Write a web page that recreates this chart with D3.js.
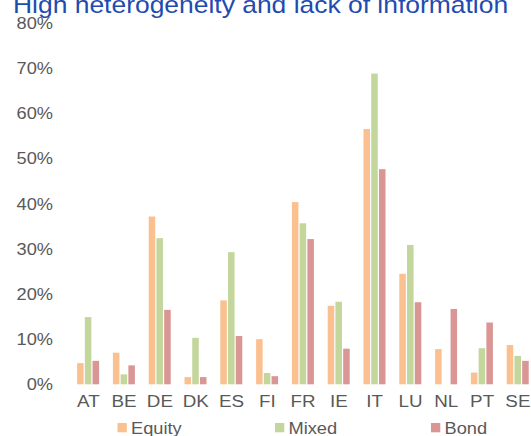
<!DOCTYPE html>
<html>
<head>
<meta charset="utf-8">
<script src="https://cdn.jsdelivr.net/npm/d3@7"></script>
<style>
  body { margin: 0; background: #fff; }
  svg { display: block; font-family: "Liberation Sans", Arial, sans-serif; }
</style>
</head>
<body>
<svg width="531" height="436"></svg>
<script>
var countries = ["AT", "BE", "DE", "DK", "ES", "FI", "FR", "IE", "IT", "LU", "NL", "PT", "SE"]
var seriesNames = ["Equity", "Mixed", "Bond"]
var colors = ["#FAC090", "#C3D69B", "#D99694"]
var equity = [0.047, 0.070, 0.372, 0.016, 0.186, 0.100, 0.404, 0.174, 0.566, 0.245, 0.078, 0.026, 0.087]
var mixed  = [0.149, 0.022, 0.324, 0.103, 0.293, 0.025, 0.357, 0.183, 0.689, 0.309, 0.000, 0.080, 0.063]
var bond   = [0.052, 0.042, 0.165, 0.016, 0.107, 0.018, 0.322, 0.079, 0.477, 0.182, 0.167, 0.137, 0.052]
var yTicks = [0, 0.1, 0.2, 0.3, 0.4, 0.5, 0.6, 0.7, 0.8]

var svg = d3.select("svg")
var values = [equity, mixed, bond]
// the source text is a bit wide, stretch Arial horizontally
var stretch = "scale(1.14,1)"

var y = d3.scaleLinear().domain([0, 0.8]).range([384.3, 23.5])
var x0 = d3.scaleBand().domain(countries).range([70.4, 535.8]).padding(0)
var x1 = d3.scaleBand().domain(seriesNames).range([-11.6, 11.6]).padding(0)

// title (cut at top, like the source slide)
svg.append("text")
    .attr("transform", "translate(13,13) scale(1.15,1)")
    .attr("fill", "#1F4BB0")
    .style("font-size", "23px")
    .text("High heterogeneity and lack of information")

// y axis labels only
var yAxis = d3.axisLeft(y).tickValues(yTicks).tickFormat(d3.format(".0%")).tickSize(0).tickPadding(0)
var gy = svg.append("g").attr("transform", "translate(53,0)").call(yAxis)
gy.select(".domain").remove()
gy.selectAll("text")
    .attr("fill", "#595959")
    .attr("transform", stretch)
    .style("font-size", "16px")
    .style("font-family", "'Liberation Sans', Arial, sans-serif")

// bars
var groups = svg.selectAll("g.country")
    .data(countries)
    .enter()
  .append("g")
    .attr("class", "country")
    .attr("transform", function(d) { return "translate(" + (x0(d) + x0.bandwidth() / 2) + ",0)"; })

groups.selectAll("rect")
    .data(function(d, i) { return seriesNames.map(function(s, j) { return { s: s, j: j, v: values[j][i] }; }); })
    .enter()
  .append("rect")
    .filter(function(d) { return d.v > 0; })
    .attr("x", function(d) { return x1(d.s) + 0.4; })
    .attr("width", x1.bandwidth() - 1.2)
    .attr("y", function(d) { return y(d.v); })
    .attr("height", function(d) { return y(0) - y(d.v); })
    .attr("fill", function(d) { return colors[d.j]; })

// category labels
var xAxis = d3.axisBottom(x0).tickSize(0).tickPadding(0)
var gx = svg.append("g").attr("transform", "translate(0,395.5)").call(xAxis)
gx.select(".domain").remove()
gx.selectAll("text")
    .attr("fill", "#595959")
    .attr("dy", "0.71em")
    .attr("transform", stretch)
    .style("font-size", "16.5px")
    .style("font-family", "'Liberation Sans', Arial, sans-serif")

// legend
var legendX = [117.5, 275, 431]
var legend = svg.selectAll("g.legend")
    .data(seriesNames)
    .enter()
  .append("g")
    .attr("class", "legend")
    .attr("transform", function(d, i) { return "translate(" + legendX[i] + ",423)"; })
legend.append("rect")
    .attr("width", 9.3)
    .attr("height", 9.3)
    .attr("fill", function(d, i) { return colors[i]; })
legend.append("text")
    .attr("transform", "translate(13.5,10.8) " + stretch)
    .attr("fill", "#595959")
    .style("font-size", "16px")
    .text(function(d) { return d; })
</script>
</body>
</html>
